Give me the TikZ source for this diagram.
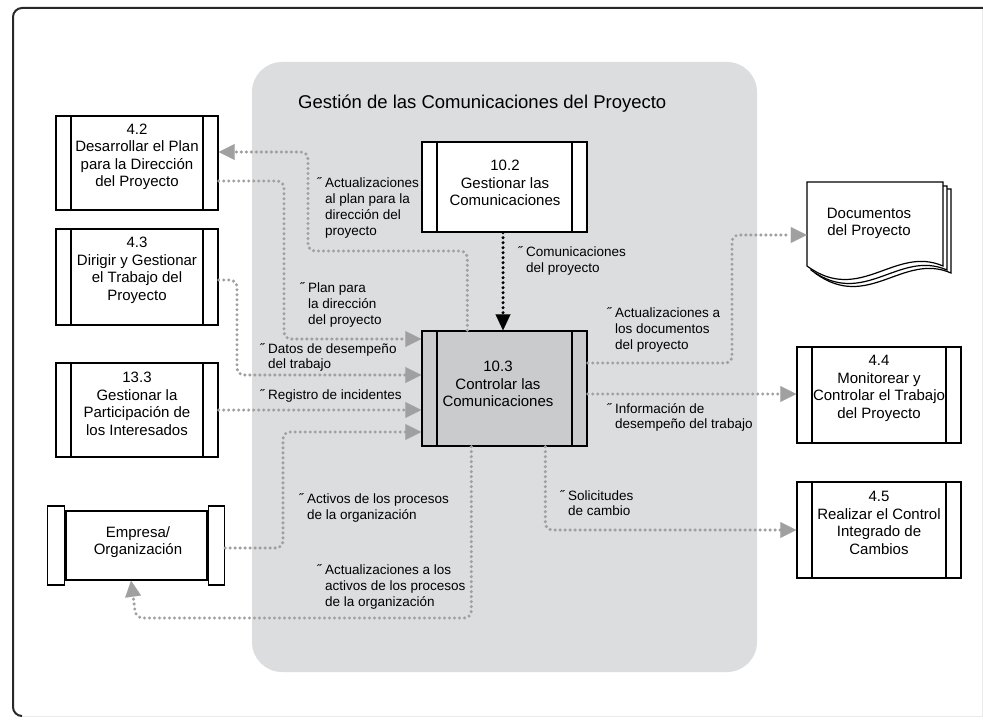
\documentclass[tikz,border=0pt]{standalone}
\usepackage{fontspec}
\setmainfont{Liberation Sans}
\usetikzlibrary{arrows.meta,calc}
\definecolor{regiongray}{RGB}{220,221,223}
\definecolor{ctrlgray}{RGB}{202,203,205}
\definecolor{arrgray}{RGB}{160,160,160}
\definecolor{framedark}{RGB}{40,40,40}
\tikzset{
  procbox/.style={draw=black, line width=1.4pt, fill=white, minimum width=162pt, minimum height=94pt, inner sep=0pt,
    path picture={
      \draw[line width=1.4pt] ([xshift=15pt]path picture bounding box.north west) -- ([xshift=15pt]path picture bounding box.south west);
      \draw[line width=1.4pt] ([xshift=-15pt]path picture bounding box.north east) -- ([xshift=-15pt]path picture bounding box.south east);
    }},
  boxtext/.style={align=center, font=\fontsize{15}{17.5}\selectfont, inner sep=0pt},
  lbl/.style={align=left, anchor=west, font=\fontsize{13.5}{15.8}\selectfont, inner sep=0pt},
  gflow/.style={draw=arrgray, line width=3.4pt, dash pattern=on 0pt off 5pt, line cap=round, rounded corners=7pt,
    -{Triangle[length=16pt,width=16pt,color=arrgray,fill=arrgray,line width=0.1pt]}},
  bflow/.style={draw=black, line width=3.4pt, dash pattern=on 0pt off 5pt, line cap=round,
    -{Triangle[length=16pt,width=15pt,color=black,fill=black,line width=0.1pt]}},
}
\begin{document}
\begin{tikzpicture}[x=1pt,y=-1pt]
\useasboundingbox (0,0) rectangle (983,725);
\fill[white] (0,0) rectangle (983,725);
% outer frame
\draw[line width=1pt, draw=black!8] (982,8) -- (982,716) -- (22,716);
\draw[line width=2pt, draw=framedark, rounded corners=9pt] (22,716) -- (13,716) -- (13,8) -- (983,8);
% process group region
\fill[regiongray, rounded corners=30pt] (252,62) rectangle (757,672);
\node[anchor=west, font=\fontsize{18.5}{22}\selectfont, inner sep=0pt] (title) at (298,103.5) {Gestión de las Comunicaciones del Proyecto};

% left boxes
\node[procbox] (b42) at (137,163) {};
\node[boxtext] (t42) at (137,157) {4.2\\Desarrollar el Plan\\para la Dirección\\del Proyecto};
\node[procbox, minimum height=96pt] (b43) at (137,277) {};
\node[boxtext] (t43) at (137,270.5) {4.3\\Dirigir y Gestionar\\el Trabajo del\\Proyecto};
\node[procbox] (b133) at (137,410) {};
\node[boxtext] (t133) at (137,404) {13.3\\Gestionar la\\Participación de\\los Interesados};

% Empresa / Organizacion
\node[draw=black, line width=1.4pt, fill=white, minimum width=141pt, minimum height=69pt, inner sep=0pt] (emp) at (136.5,545.5) {};
\node[draw=black, line width=1.4pt, fill=white, minimum width=17pt, minimum height=79pt, inner sep=0pt, anchor=east] (empl) at (emp.west) {};
\node[draw=black, line width=1.4pt, fill=white, minimum width=16pt, minimum height=79pt, inner sep=0pt, anchor=west] (empr) at (emp.east) {};
\node[boxtext] (temp) at (138,542) {Empresa/\\Organización};

% center boxes
\node[procbox, minimum width=165pt, minimum height=90pt] (b102) at (504.5,187) {};
\node[boxtext] (t102) at (505,183) {10.2\\Gestionar las\\Comunicaciones};
\node[procbox, fill=ctrlgray, minimum width=165pt, minimum height=115pt] (b103) at (504.5,388.5) {};
\node[boxtext] (t103) at (498,384) {10.3\\Controlar las\\Comunicaciones};

% right boxes
\node[procbox, minimum width=164pt, minimum height=96pt] (b44) at (879,395) {};
\node[boxtext] (t44) at (879,388.5) {4.4\\Monitorear y\\Controlar el Trabajo\\del Proyecto};
\node[procbox, minimum width=164pt, minimum height=96pt] (b45) at (879,530) {};
\node[boxtext] (t45) at (879,523) {4.5\\Realizar el Control\\Integrado de\\Cambios};

% document stack
\foreach \dx/\dy in {8/7,4/4} {
  \draw[line width=1.2pt, fill=white] (807+\dx,182+\dy) -- (943+\dx,182+\dy) -- (943+\dx,266+\dy)
    .. controls (895+\dx,245+\dy) and (860+\dx,305+\dy) .. (807+\dx,266+\dy) -- cycle;
}
\draw[line width=1.2pt, fill=white] (807,182) -- (943,182) -- (943,266)
    .. controls (895,245) and (860,305) .. (807,266) -- cycle;
\node[inner sep=0pt, minimum width=136pt, minimum height=86pt] (doc) at (875,225) {};
\node[boxtext] (tdoc) at (869,223.5) {Documentos\\del Proyecto};

% connectors
\draw[gflow] ($(b103.north west)+(46,0)$) |- (308,251) |- (b42.east |- 0,152);
\draw[gflow] (b42.east |- 0,181) -| (284,339) -- (b103.west |- 0,339);
\draw[gflow] (b43.east |- 0,280) -| (237,375) -- (b103.west |- 0,375);
\draw[gflow] (b133.east |- 0,410) -- (b103.west |- 0,410);
\draw[gflow] (empr.east |- 0,548) -| (283,432) -- (b103.west |- 0,432);
\draw[gflow] ($(b103.south west)+(50,0)$) |- (136,618) -- (emp.south -| 131,0);
\draw[bflow] (b102.south -| 503,0) -- (b103.north -| 503,0);
\draw[gflow] (b103.east |- 0,363) -| (732,235) -- (doc.west |- 0,235);
\draw[gflow] (b103.east |- 0,394) -- (b44.west |- 0,394);
\draw[gflow] ($(b103.south west)+(124,0)$) |- (b45.west |- 0,530);

% labels
\node[lbl] (l1) at (325,208) {\llap{˝ }Actualizaciones\\al plan para la\\dirección del\\proyecto};
\node[lbl] (l2) at (526,261) {\llap{˝ }Comunicaciones\\del proyecto};
\node[lbl] (l3) at (308,305) {\llap{˝ }Plan para\\la dirección\\del proyecto};
\node[lbl] (l4) at (268,357.5) {\llap{˝ }Datos de desempeño\\del trabajo};
\node[lbl] (l5) at (268,395.5) {\llap{˝ }Registro de incidentes};
\node[lbl] (l6) at (307,508) {\llap{˝ }Activos de los procesos\\de la organización};
\node[lbl] (l7) at (325,587) {\llap{˝ }Actualizaciones a los\\activos de los procesos\\de la organización};
\node[lbl] (l8) at (615,330) {\llap{˝ }Actualizaciones a\\los documentos\\del proyecto};
\node[lbl] (l9) at (615,417.5) {\llap{˝ }Información de\\desempeño del trabajo};
\node[lbl] (l10) at (568,503) {\llap{˝ }Solicitudes\\de cambio};
\end{tikzpicture}
\end{document}
